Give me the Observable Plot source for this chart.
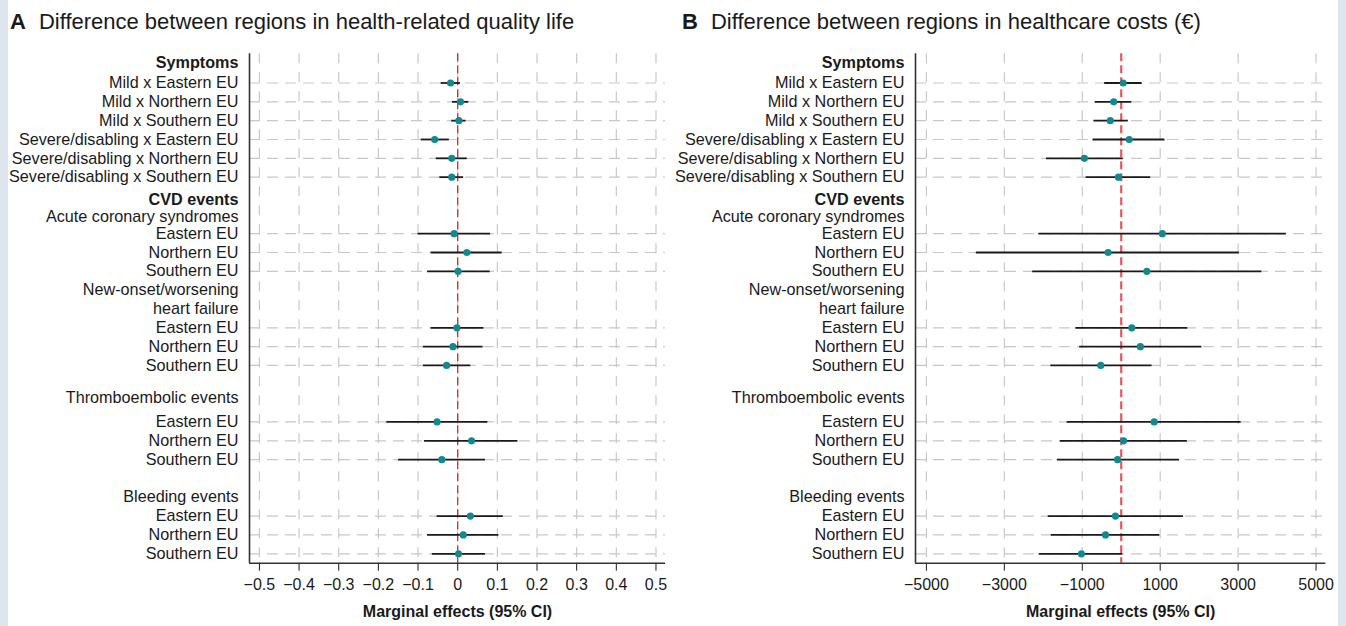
<!DOCTYPE html>
<html><head><meta charset="utf-8">
<script src="https://cdn.jsdelivr.net/npm/d3@7"></script>
<script src="https://cdn.jsdelivr.net/npm/@observablehq/plot@0.6"></script>
<style>
html,body{margin:0;padding:0;background:#fff;}
#wrap{position:relative;width:1346px;height:626px;overflow:hidden;font-family:"Liberation Sans",Arial,Helvetica,sans-serif;color:#1a1a1a;background:#fff;}
.strip{position:absolute;top:0;height:626px;width:8px;background:#dde6ef;}
.title{position:absolute;top:10px;font-size:22px;line-height:24px;white-space:nowrap;}
.title b{font-size:22px;margin-right:13px;}
.panel{position:absolute;top:40px;}
</style></head><body>
<div id="wrap">
  <div class="strip" style="left:0"></div>
  <div class="strip" style="left:1338px"></div>
  <div class="title" style="left:10px"><b>A</b>Difference between regions in health-related quality life</div>
  <div class="title" style="left:682px"><b>B</b>Difference between regions in healthcare costs (€)</div>
  <div class="panel" id="pa" style="left:8px"></div>
  <div class="panel" id="pb" style="left:673px"></div>
</div>
<script>
// ---- data ----
const rowLabels = [
  "Symptoms",
  "Mild x Eastern EU", "Mild x Northern EU", "Mild x Southern EU",
  "Severe/disabling x Eastern EU", "Severe/disabling x Northern EU", "Severe/disabling x Southern EU",
  "CVD events", "Acute coronary syndromes",
  "Eastern EU", "Northern EU", "Southern EU",
  "New-onset/worsening", "heart failure",
  "Eastern EU", "Northern EU", "Southern EU",
  "", "Thromboembolic events",
  "Eastern EU", "Northern EU", "Southern EU",
  "", "Bleeding events",
  "Eastern EU", "Northern EU", "Southern EU"
];
const boldLabels = ["Symptoms", "CVD events"];

const qolEst  = [null, -0.018, 0.007, 0.003, -0.058, -0.015, -0.015, null, null, -0.009, 0.023, 0.001, null, null, -0.002, -0.012, -0.028, null, null, -0.052, 0.035, -0.040, null, null, 0.032, 0.014, 0.002];
const qolLow  = [null, -0.042, -0.013, -0.015, -0.092, -0.054, -0.045, null, null, -0.100, -0.067, -0.076, null, null, -0.067, -0.087, -0.087, null, null, -0.179, -0.084, -0.149, null, null, -0.052, -0.076, -0.064];
const qolHigh = [null, 0.007, 0.028, 0.021, -0.021, 0.024, 0.015, null, null, 0.083, 0.112, 0.082, null, null, 0.066, 0.064, 0.033, null, null, 0.076, 0.152, 0.070, null, null, 0.115, 0.104, 0.070];

const costEst  = [null, 50, -193, -282, 204, -945, -72, null, null, 1055, -337, 657, null, null, 271, 492, -525, null, null, 845, 61, -94, null, null, -149, -403, -1022];
const costLow  = [null, -425, -669, -702, -724, -1917, -901, null, null, -2116, -3718, -2272, null, null, -1166, -1066, -1807, null, null, -1387, -1564, -1641, null, null, -1873, -1796, -2105];
const costHigh = [null, 536, 271, 182, 1122, 50, 757, null, null, 4238, 3033, 3608, null, null, 1707, 2072, 790, null, null, 3077, 1696, 1497, null, null, 1597, 989, 39];

const qolTicks  = [-0.5, -0.4, -0.3, -0.2, -0.1, 0, 0.1, 0.2, 0.3, 0.4, 0.5];
const costTicks = [-5000, -3000, -1000, 1000, 3000, 5000];
const axisTitle = "Marginal effects (95% CI)";

// ---- layout helpers (not data) ----
const labelNudge = {0: -0.05, 7: 0.2, 8: 0.1, 18: -0.3};
const minus = s => s.replace("-", "\u2212");
const fmtQol = d => d === 0 ? "0" : minus(d.toFixed(1));
const fmtCost = d => minus(String(d));

function panel(el, est, lo, hi, domain, ticks, fmt, opts) {
  const labels = rowLabels.map((label, i) => ({label, y: i + (labelNudge[i] || 0)})).filter(d => d.label);
  const normal = labels.filter(d => !boldLabels.includes(d.label));
  const bold = labels.filter(d => boldLabels.includes(d.label));
  const rows = est.map((e, i) => ({i, e, lo: lo[i], hi: hi[i]})).filter(d => d.e != null);
  const yBottom = 26.5;
  const chart = Plot.plot({
    width: 665, height: 586,
    marginLeft: opts.marginLeft, marginRight: opts.marginRight, marginTop: 13.3, marginBottom: 63.3,
    x: {domain, ticks, tickFormat: fmt, tickSize: 8, tickPadding: 7, label: null},
    y: {domain: [yBottom, -0.55], axis: null},
    style: {fontFamily: '"Liberation Sans", Arial, sans-serif', fontSize: "16px", color: "#1a1a1a", background: "transparent", overflow: "visible"},
    marks: [
      Plot.ruleX(ticks, {stroke: "#c8c8c8", strokeWidth: 1.2, strokeDasharray: "10,9"}),
      Plot.ruleY(rows, {y: "i", stroke: "#c8c8c8", strokeWidth: 1.2, strokeDasharray: "11,7"}),
      Plot.ruleX([0], {stroke: opts.zeroColor, strokeWidth: opts.zeroWidth, strokeDasharray: "8,4"}),
      Plot.ruleY(rows, {y: "i", x1: "lo", x2: "hi", stroke: "#1a1a1a", strokeWidth: 1.8}),
      Plot.dot(rows, {x: "e", y: "i", r: 3.6, fill: "#12898f", stroke: "none"}),
      Plot.ruleX([domain[0]], {stroke: "#333", strokeWidth: 1.6}),
      Plot.ruleY([yBottom], {stroke: "#333", strokeWidth: 1.6}),
      Plot.text(normal, {y: "y", text: "label", frameAnchor: "left", textAnchor: "end", dx: -11, fontSize: 16.2, fill: "#1a1a1a"}),
      Plot.text(bold, {y: "y", text: "label", frameAnchor: "left", textAnchor: "end", dx: -11, fontSize: 16.2, fontWeight: "bold", fill: "#1a1a1a"}),
      Plot.text([axisTitle], {frameAnchor: "bottom", dy: 54, fontSize: 16, fontWeight: "bold", fill: "#1a1a1a"})
    ]
  });
  document.getElementById(el).appendChild(chart);
}

panel("pa", qolEst, qolLow, qolHigh, [-0.525, 0.524], qolTicks, fmtQol,
  {marginLeft: 241, marginRight: 8, zeroColor: "#d42a2a", zeroWidth: 1.3});
panel("pb", costEst, costLow, costHigh, [-5280, 5250], costTicks, fmtCost,
  {marginLeft: 242, marginRight: 12.7, zeroColor: "#e05a5e", zeroWidth: 2.2});
</script>
</body></html>
